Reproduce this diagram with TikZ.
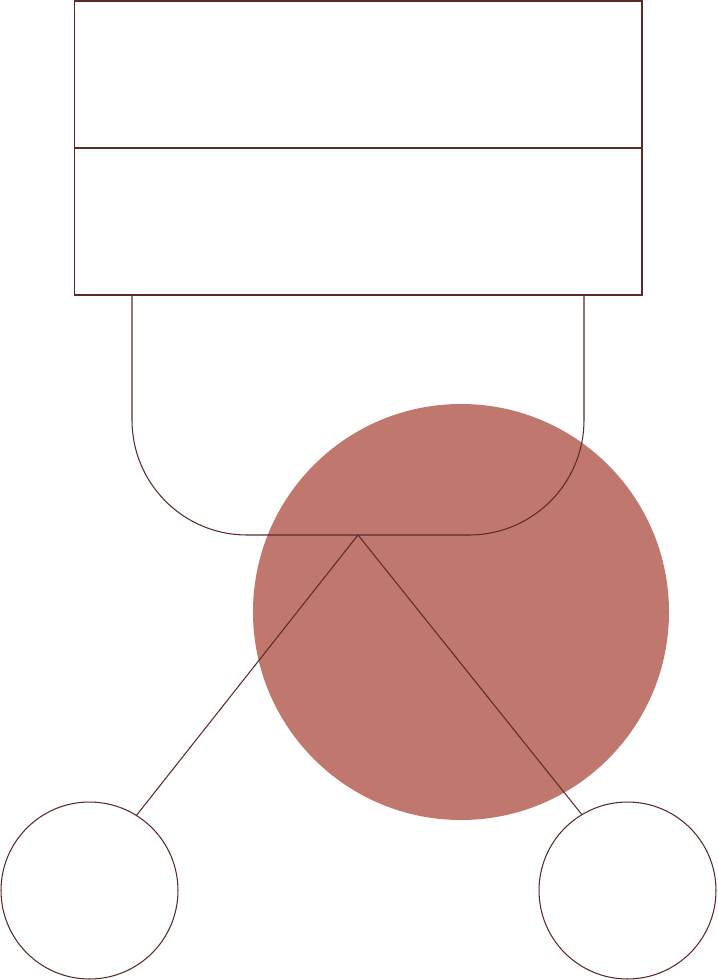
\documentclass[tikz,border=0pt]{standalone}
\usepackage{xcolor}
\usetikzlibrary{calc}

\definecolor{stroke}{RGB}{92,42,42}
\definecolor{blob}{RGB}{192,119,110}

\begin{document}
\begin{tikzpicture}[x=0.02cm, y=-0.02cm,
		line width=0.6pt, draw=stroke,
		box/.style={draw=stroke, rectangle, inner sep=0pt, outer sep=0pt, minimum width=11.35cm, minimum height=2.94cm},
		ball/.style={draw=stroke, circle, inner sep=0pt, outer sep=0pt, minimum size=3.54cm}]
					\useasboundingbox (0,0) rectangle (717,980);
					
					\coordinate (top) at (358,535);
					
					\begin{scope}
						\fill [blob] (461,612) circle (208);
					\end{scope}
					
					\begin{scope}
						\node [box] (upper) at (358.3,74.5) {};
						\node [box] (lower) at (358.3,221.5) {};
						
						\draw [rounded corners=2.3cm] (132,295) -- (132,535) -- (584,535) -- (584,295);
					\end{scope}
					
					\begin{scope}
						\node [ball] (left) at (89.5,890.5) {};
						\node [ball] (right) at (627.5,890.5) {};
						
						\draw (top) -- (left.58.5);
						\draw (top) -- (right.121.5);
					\end{scope}
				\end{tikzpicture}
\end{document}
